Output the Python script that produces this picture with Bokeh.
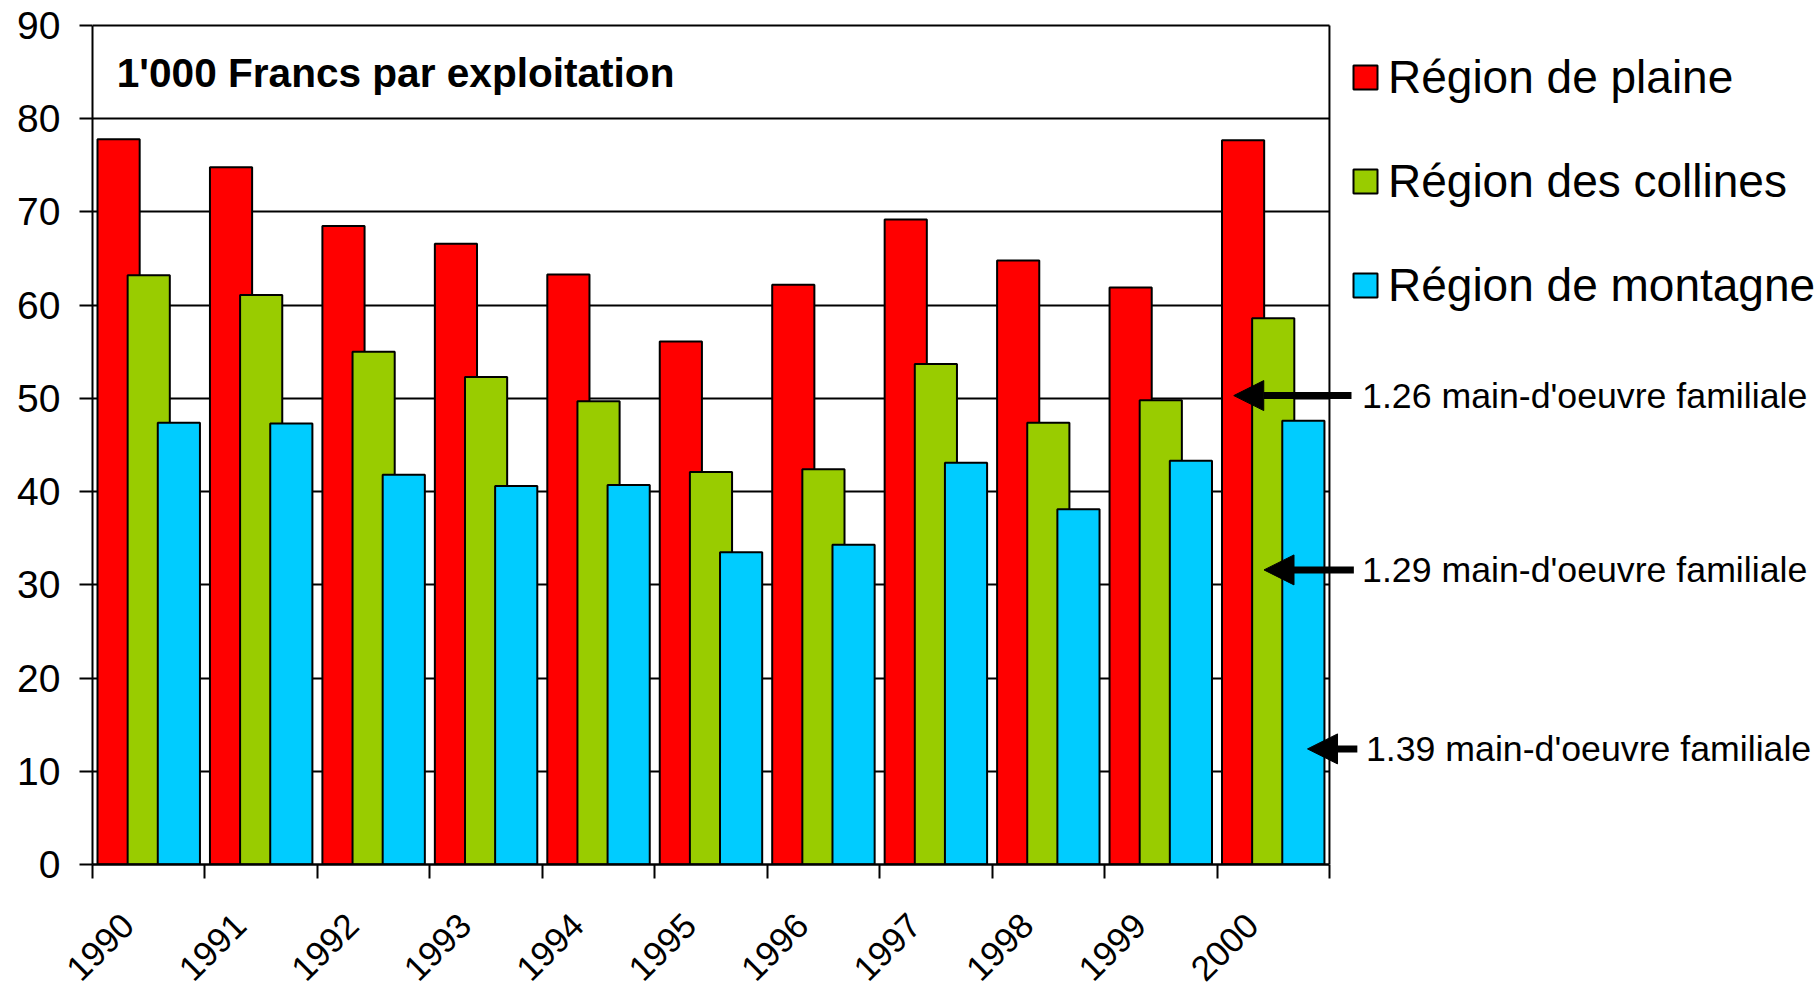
import math

import numpy as np
from bokeh.core.properties import value
from bokeh.embed import file_html
from bokeh.models import (Arrow, FixedTicker, Label, Legend, LegendItem,
                          NormalHead, Range1d)
from bokeh.plotting import figure
from bokeh.resources import INLINE

# ---- data ---------------------------------------------------------------
years = ["1990", "1991", "1992", "1993", "1994", "1995",
         "1996", "1997", "1998", "1999", "2000"]
plaine = [77.8, 74.8, 68.5, 66.6, 63.3, 56.1, 62.2, 69.2, 64.8, 61.9, 77.7]
collines = [63.2, 61.1, 55.0, 52.3, 49.7, 42.1, 42.4, 53.7, 47.4, 49.8, 58.6]
montagne = [47.4, 47.3, 41.8, 40.6, 40.7, 33.5, 34.3, 43.1, 38.1, 43.3, 47.6]

series_names = ["Région de plaine", "Région des collines", "Région de montagne"]
series_values = [plaine, collines, montagne]
series_colors = ["#FF0000", "#99CC00", "#00CCFF"]

y_ticks = [0, 10, 20, 30, 40, 50, 60, 70, 80, 90]
title_text = "1'000 Francs par exploitation"
labour_notes = ["1.26 main-d'oeuvre familiale",
                "1.29 main-d'oeuvre familiale",
                "1.39 main-d'oeuvre familiale"]

# ---- layout -------------------------------------------------------------
FONT = "Liberation Sans"
n = len(years)
y_max = y_ticks[-1]

W, H = 1818, 994
left, top, bottom = 92, 23, 130
unit_px = 112.45                      # width of one year slot
x_end = (W - left) / unit_px
y_end = y_max + 2 * y_max / (H - top - bottom - 2)

p = figure(width=W, height=H, output_backend="svg", toolbar_location=None,
           x_range=Range1d(0, x_end), y_range=Range1d(0, y_end),
           min_border_left=left, min_border_right=0,
           min_border_top=top, min_border_bottom=bottom,
           background_fill_color="white", border_fill_color="white")
p.outline_line_color = None

# horizontal grid only across the year slots
p.xgrid.visible = False
p.ygrid.ticker = FixedTicker(ticks=y_ticks)
p.ygrid.grid_line_color = "black"
p.ygrid.grid_line_width = 2
p.ygrid.cross_bounds = (0, n)

# y axis
p.yaxis.ticker = FixedTicker(ticks=y_ticks)
p.yaxis.bounds = (0, y_max)
p.yaxis.axis_line_width = 2
p.yaxis.major_tick_out = 13
p.yaxis.major_tick_in = 0
p.yaxis.major_tick_line_width = 2
p.yaxis.minor_tick_line_color = None
p.yaxis.major_label_standoff = 19
p.yaxis.major_label_text_font = FONT
p.yaxis.major_label_text_font_size = "39px"
p.yaxis.major_label_text_color = "black"

# x axis: slanted year labels (their upper ends sit just left of each
# slot centre), tick marks at the slot boundaries
label_pos = [i + 0.313 for i in range(n)]
p.xaxis.ticker = FixedTicker(ticks=label_pos, minor_ticks=list(range(n + 1)))
p.xaxis.major_label_overrides = {c: y for c, y in zip(label_pos, years)}
p.xaxis.bounds = (0, n)
p.xaxis.axis_line_width = 2.5
p.xaxis.major_tick_line_color = None
p.xaxis.major_tick_out = 0
p.xaxis.major_tick_in = 0
p.xaxis.minor_tick_out = 14
p.xaxis.minor_tick_in = 0
p.xaxis.minor_tick_line_color = "black"
p.xaxis.minor_tick_line_width = 2
p.xaxis.major_label_orientation = math.pi / 4
p.xaxis.major_label_standoff = 41
p.xaxis.major_label_text_font = FONT
p.xaxis.major_label_text_font_size = "35px"
p.xaxis.major_label_text_color = "black"

# right edge of the plotting area
p.segment(x0=[n], y0=[0], x1=[n], y1=[y_max], line_color="black", line_width=2)

# overlapping clustered bars
offsets = [-0.268, 0.0, 0.268]
bar_width = 0.375
renderers = []
for vals, off, col in zip(series_values, offsets, series_colors):
    xs = np.arange(n) + 0.5 + off
    r = p.vbar(x=xs, top=vals, bottom=0, width=bar_width,
               fill_color=col, line_color="black", line_width=2)
    renderers.append(r)

# legend to the right of the bars
legend = Legend(
    items=[LegendItem(label=nm, renderers=[r]) for nm, r in zip(series_names, renderers)],
    location=(1258, 552), orientation="vertical",
    glyph_width=30, glyph_height=30, label_height=54, spacing=50,
    label_standoff=8, padding=0, margin=0,
    label_text_font=FONT, label_text_font_size="46px", label_text_color="black",
    border_line_color=None, background_fill_alpha=0)
p.add_layout(legend)

# heading inside the top band
p.add_layout(Label(x=0.216, y=84.9, text=title_text, text_font=FONT,
                   text_font_size="40.6px", text_font_style="bold",
                   text_baseline="middle", text_color="black"))

# family-labour notes with arrows pointing at the 2000 bars
arrow_tips = [(10.149, 50.3), (10.418, 31.6), (10.805, 12.4)]
arrow_tails_x = [11.196, 11.217, 11.248]
note_x = [11.29, 11.29, 11.325]
for (tx, ty), sx, nx, note in zip(arrow_tips, arrow_tails_x, note_x, labour_notes):
    p.add_layout(Arrow(end=NormalHead(size=30, fill_color="black", line_color="black",
                                      line_width=1),
                       x_start=sx, y_start=ty, x_end=tx, y_end=ty,
                       line_color="black", line_width=7))
    p.add_layout(Label(x=nx, y=ty, text=note, text_font=FONT,
                       text_font_size="35.7px", text_baseline="middle",
                       text_color="black"))

open("out.html", "w").write(file_html(p, INLINE))
